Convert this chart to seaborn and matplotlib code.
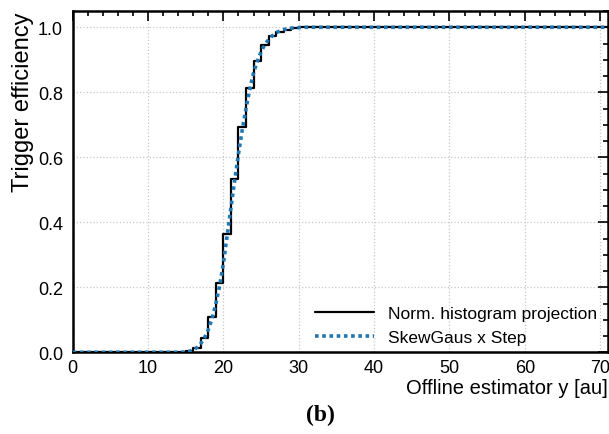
import matplotlib
matplotlib.use("Agg")
import matplotlib.pyplot as plt
import seaborn as sns
import pandas as pd
from matplotlib.ticker import MultipleLocator

# Normalised histogram projection: unit-width bins from 0 to 71
bin_edges = list(range(0, 72))
hist_eff = ([0.0] * 15
            + [0.003, 0.013, 0.043, 0.108, 0.213, 0.364, 0.533, 0.692,
               0.813, 0.897, 0.945, 0.972, 0.985, 0.993, 0.997]
            + [1.0] * 41)

# SkewGaus x Step fit, sampled along the offline estimator
fit_x = [0, 14, 15, 15.5, 16, 16.5, 17, 17.5, 18, 18.5, 19, 19.5, 20, 20.5,
         21, 21.5, 22, 22.5, 23, 23.5, 24, 24.5, 25, 25.5, 26, 26.5, 27,
         27.5, 28, 29, 30, 31, 71]
fit_eff = [0.0, 0.0, 0.001, 0.003, 0.007, 0.015, 0.027, 0.045, 0.07, 0.105,
           0.15, 0.205, 0.275, 0.36, 0.445, 0.53, 0.61, 0.685, 0.75, 0.81,
           0.86, 0.895, 0.925, 0.947, 0.962, 0.974, 0.983, 0.989, 0.993,
           0.997, 0.999, 1.0, 1.0]

hist_label = "Norm. histogram projection"
fit_label = "SkewGaus x Step"
x_label = "Offline estimator y [au]"
y_label = "Trigger efficiency"
panel_tag = "(b)"

sns.set_theme(style="white")
plt.rcParams['font.family'] = ['Liberation Sans', 'DejaVu Sans']
plt.rcParams['text.color'] = 'black'
plt.rcParams['axes.labelcolor'] = 'black'

fig = plt.figure(figsize=(6.09, 4.35), dpi=100)
ax = fig.add_axes([0.1194, 0.1878, 0.8785, 0.7846])

hist_df = pd.DataFrame({"y": bin_edges, "eff": hist_eff + [hist_eff[-1]]})
fit_df = pd.DataFrame({"y": fit_x, "eff": fit_eff})

sns.lineplot(data=hist_df, x="y", y="eff", drawstyle="steps-post",
             color="black", lw=1.6, label=hist_label, ax=ax, zorder=3)
sns.lineplot(data=fit_df, x="y", y="eff", color="#1f77b4", lw=2.6,
             linestyle=(0, (1, 1)), label=fit_label, ax=ax, zorder=4)

ax.set_xlim(0, 71)
ax.set_ylim(0, 1.05)
ax.xaxis.set_major_locator(MultipleLocator(10))
ax.xaxis.set_minor_locator(MultipleLocator(2))
ax.yaxis.set_major_locator(MultipleLocator(0.2))
ax.yaxis.set_minor_locator(MultipleLocator(0.05))
ax.yaxis.set_major_formatter(plt.FuncFormatter(lambda v, p: f"{v:.1f}"))

ax.grid(True, which="major", linestyle=":", color="#c8c8c8", lw=0.9)
ax.tick_params(which="both", direction="in", top=True, right=True,
               colors="black", labelsize=13, width=1.2)
ax.tick_params(which="major", length=7)
ax.tick_params(which="minor", length=3.5)
ax.tick_params(axis="x", which="major", pad=5)
ax.tick_params(axis="y", which="major", pad=7)
for s in ax.spines.values():
    s.set_linewidth(1.8)
    s.set_color("black")

ax.set_xlabel(x_label, fontsize=14.5, loc="right", labelpad=1, color="black")
ax.set_ylabel(y_label, fontsize=17, loc="top", labelpad=3, color="black")

leg = ax.legend(frameon=False, loc="lower right", fontsize=12.5,
                bbox_to_anchor=(1.0, -0.01), handlelength=3.4,
                handletextpad=0.8, labelspacing=0.5, borderaxespad=0.2)
for t in leg.get_texts():
    t.set_color("black")

fig.text(320 / 609, 1 - 415 / 435, panel_tag, ha="center", va="center",
         fontsize=17, fontweight="bold", family="Liberation Serif",
         color="black")

fig.savefig("out.png", dpi=100)
